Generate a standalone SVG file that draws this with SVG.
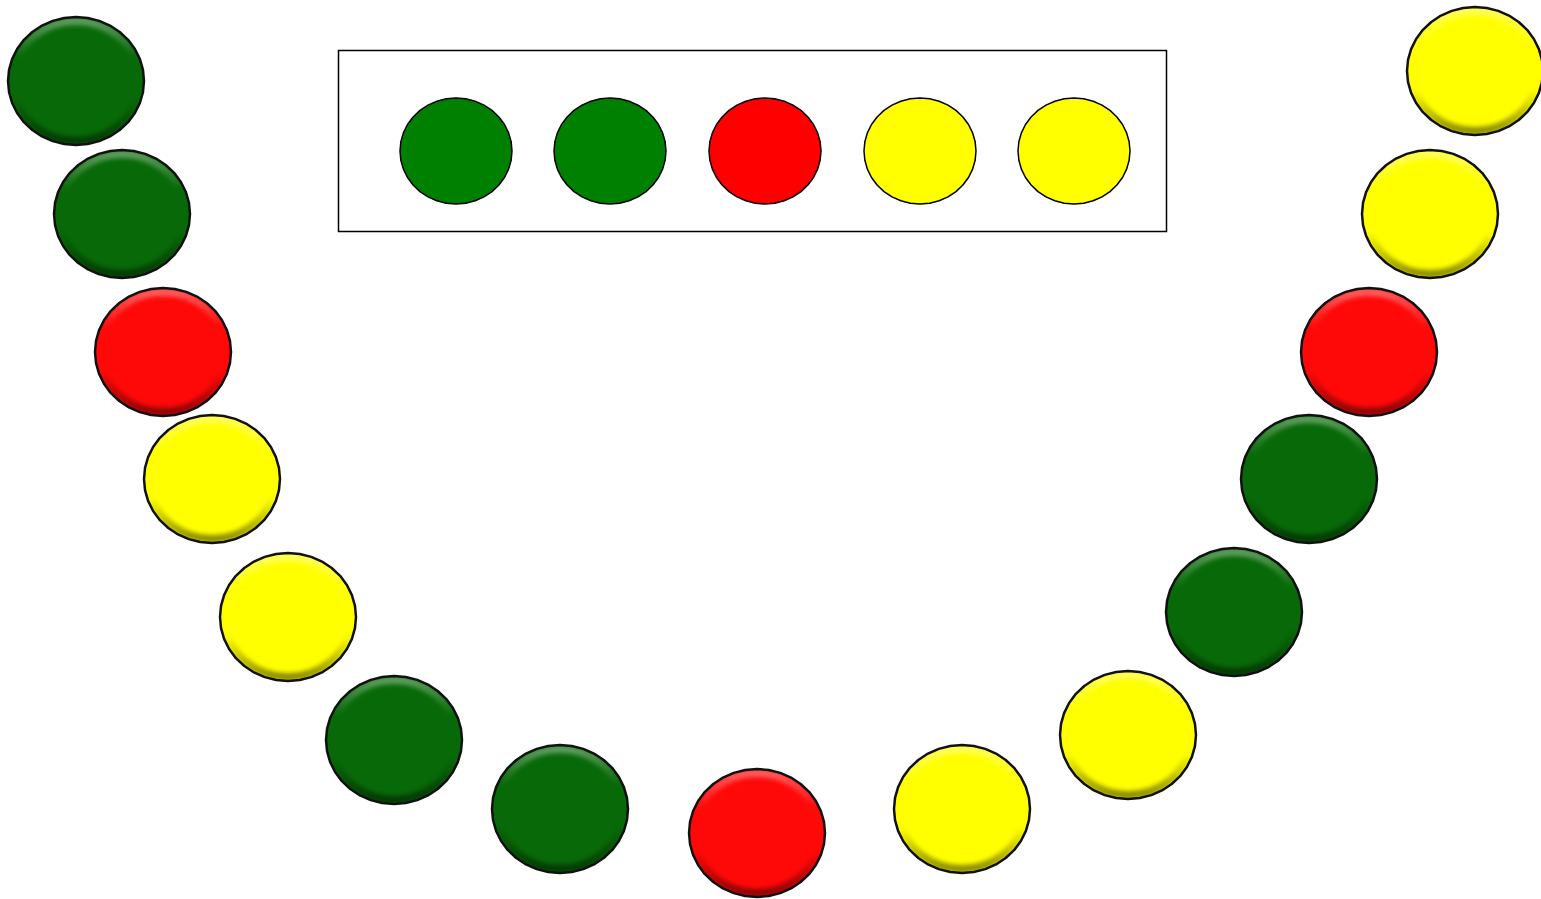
<svg xmlns="http://www.w3.org/2000/svg" width="1541" height="899" viewBox="0 0 1541 899">
<style>
.g{fill:#076907}.r{fill:#ff0808}.y{fill:#ffff00}
.ol{fill:none;stroke:#111;stroke-width:2.5;stroke-linejoin:round}
.ig{fill:#008000}.ir{fill:#ff0000}.iy{fill:#ffff00}
.in{stroke:#000;stroke-width:1.5;stroke-linejoin:round}
</style>
<defs>
<linearGradient id="bg" x1="0" y1="0" x2="0" y2="1">
<stop offset="0" stop-color="#fff" stop-opacity="0.35"/>
<stop offset="0.3" stop-color="#fff" stop-opacity="0"/>
<stop offset="0.65" stop-color="#000" stop-opacity="0"/>
<stop offset="1" stop-color="#000" stop-opacity="0.45"/>
</linearGradient>
<filter id="soft" x="-10%" y="-10%" width="120%" height="120%"><feGaussianBlur stdDeviation="2"/></filter>
<polygon id="body" points="68,0 66.97,11.11 63.9,21.89 58.89,32 52.09,41.14 43.71,49.02 34,55.42 23.26,60.14 11.8,63.03 0,64 -11.8,63.03 -23.26,60.14 -34,55.42 -43.71,49.02 -52.09,41.14 -58.89,32 -63.9,21.89 -66.97,11.11 -68,0 -66.97,-11.11 -63.9,-21.89 -58.89,-32 -52.09,-41.14 -43.71,-49.02 -34,-55.42 -23.26,-60.14 -11.8,-63.03 0,-64 11.8,-63.03 23.26,-60.14 34,-55.42 43.71,-49.02 52.09,-41.14 58.89,-32 63.9,-21.89 66.97,-11.11"/>
<clipPath id="cp"><use href="#body"/></clipPath>
<g id="bev" clip-path="url(#cp)"><polygon fill="none" stroke="url(#bg)" stroke-width="8" filter="url(#soft)" points="64,0 63.03,10.42 60.14,20.52 55.43,30 49.02,38.57 41.14,45.96 32,51.96 21.89,56.38 11.11,59.09 0,60 -11.11,59.09 -21.89,56.38 -32,51.96 -41.14,45.96 -49.02,38.57 -55.43,30 -60.14,20.52 -63.03,10.42 -64,0 -63.03,-10.42 -60.14,-20.52 -55.43,-30 -49.02,-38.57 -41.14,-45.96 -32,-51.96 -21.89,-56.38 -11.11,-59.09 0,-60 11.11,-59.09 21.89,-56.38 32,-51.96 41.14,-45.96 49.02,-38.57 55.43,-30 60.14,-20.52 63.03,-10.42"/></g>
<polygon id="lg" points="56,0 55.15,9.2 52.62,18.13 48.5,26.5 42.9,34.07 36,40.6 28,45.9 19.15,49.8 9.72,52.2 0,53 -9.72,52.2 -19.15,49.8 -28,45.9 -36,40.6 -42.9,34.07 -48.5,26.5 -52.62,18.13 -55.15,9.2 -56,0 -55.15,-9.2 -52.62,-18.13 -48.5,-26.5 -42.9,-34.07 -36,-40.6 -28,-45.9 -19.15,-49.8 -9.72,-52.2 0,-53 9.72,-52.2 19.15,-49.8 28,-45.9 36,-40.6 42.9,-34.07 48.5,-26.5 52.62,-18.13 55.15,-9.2"/>
</defs>
<rect x="338.5" y="50.5" width="828" height="181" fill="#fff" stroke="#000" stroke-width="1.5"/>
<g id="legend">
<use href="#lg" class="ig in" transform="translate(456,151)"/>
<use href="#lg" class="ig in" transform="translate(610,151)"/>
<use href="#lg" class="ir in" transform="translate(765,151)"/>
<use href="#lg" class="iy in" transform="translate(920,151)"/>
<use href="#lg" class="iy in" transform="translate(1074,151)"/>
</g>
<g id="n1" transform="translate(76,81)"><use href="#body" class="g"/><use href="#bev"/><use href="#body" class="ol"/></g>
<g id="n2" transform="translate(122,214)"><use href="#body" class="g"/><use href="#bev"/><use href="#body" class="ol"/></g>
<g id="n3" transform="translate(163,352)"><use href="#body" class="r"/><use href="#bev"/><use href="#body" class="ol"/></g>
<g id="n4" transform="translate(212,479)"><use href="#body" class="y"/><use href="#bev"/><use href="#body" class="ol"/></g>
<g id="n5" transform="translate(288,617)"><use href="#body" class="y"/><use href="#bev"/><use href="#body" class="ol"/></g>
<g id="n6" transform="translate(394,740)"><use href="#body" class="g"/><use href="#bev"/><use href="#body" class="ol"/></g>
<g id="n7" transform="translate(560,809)"><use href="#body" class="g"/><use href="#bev"/><use href="#body" class="ol"/></g>
<g id="n8" transform="translate(757,833)"><use href="#body" class="r"/><use href="#bev"/><use href="#body" class="ol"/></g>
<g id="n9" transform="translate(962,809)"><use href="#body" class="y"/><use href="#bev"/><use href="#body" class="ol"/></g>
<g id="n10" transform="translate(1128,735)"><use href="#body" class="y"/><use href="#bev"/><use href="#body" class="ol"/></g>
<g id="n11" transform="translate(1234,612)"><use href="#body" class="g"/><use href="#bev"/><use href="#body" class="ol"/></g>
<g id="n12" transform="translate(1309,479)"><use href="#body" class="g"/><use href="#bev"/><use href="#body" class="ol"/></g>
<g id="n13" transform="translate(1369,352)"><use href="#body" class="r"/><use href="#bev"/><use href="#body" class="ol"/></g>
<g id="n14" transform="translate(1430,214)"><use href="#body" class="y"/><use href="#bev"/><use href="#body" class="ol"/></g>
<g id="n15" transform="translate(1475,71)"><use href="#body" class="y"/><use href="#bev"/><use href="#body" class="ol"/></g>
<g id="connectors"/>
</svg>
